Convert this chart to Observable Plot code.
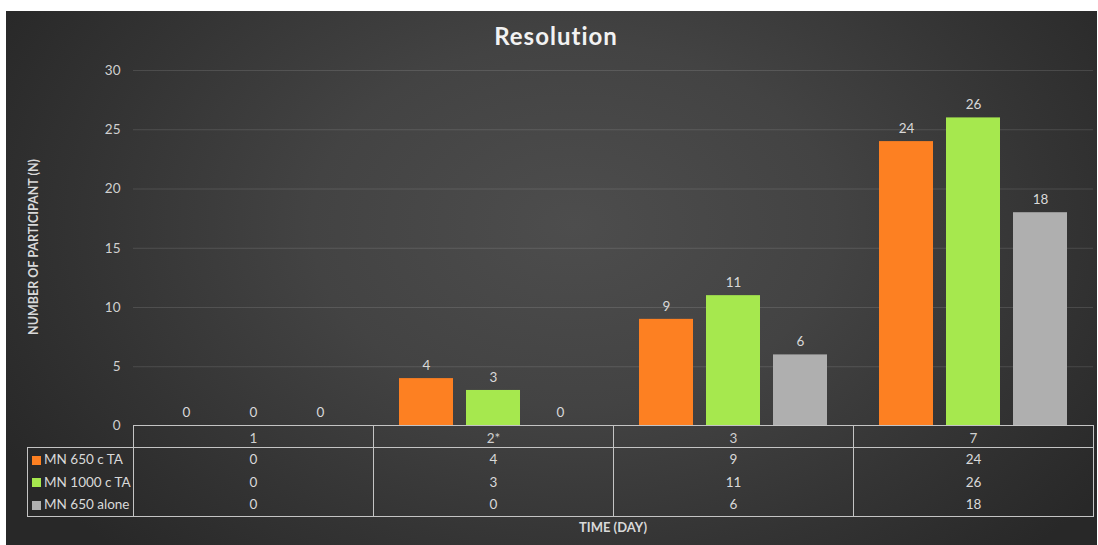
<!DOCTYPE html>
<html>
<head>
<meta charset="utf-8">
<script src="https://cdn.jsdelivr.net/npm/d3@7"></script>
<script src="https://cdn.jsdelivr.net/npm/@observablehq/plot@0.6"></script>
<style>
  html, body { margin: 0; padding: 0; background: #fff; }
  #wrap { position: relative; width: 1098px; height: 545px; overflow: hidden; font-family: Lato, "Open Sans", sans-serif; }
  #bg { position: absolute; left: 6px; top: 11px; width: 1091px; height: 534px;
        background: radial-gradient(ellipse 60% 85% at 52% 40%, #4d4d4d 0%, #434343 40%, #333 75%, #282828 100%); }
  #plot { position: absolute; left: 6px; top: 11px; }
  #title { position: absolute; left: 0; width: 1112px; top: 21px; text-align: center; color: #f2f2f2; font-weight: 700; font-size: 24px; letter-spacing: 1px; }
  #ylab { position: absolute; left: 33px; top: 247px; transform: translate(-50%, -50%) rotate(-90deg); white-space: nowrap; color: #d9d9d9; font-weight: 700; font-size: 12.5px; }
  #xlab { position: absolute; left: 613px; top: 527px; transform: translate(-50%, -50%); color: #d9d9d9; font-weight: 700; font-size: 13px; white-space: nowrap; }
  #tbl { position: absolute; left: 27px; top: 425px; border-collapse: collapse; color: #d9d9d9; font-size: 13.5px; table-layout: fixed; }
  #tbl td { border: 1px solid #c4c4c4; padding: 0; text-align: center; }
  #tbl tr.head td { height: 21px; }
  #tbl tr.row td { height: 22.5px; }
  #tbl tr.row td { border-top: none; border-bottom: none; }
  #tbl tr.row:last-child td { border-bottom: 1px solid #c4c4c4; }
  #tbl td.leg { text-align: left; white-space: nowrap; padding-left: 4px; }
  #tbl td.blank { border: none; border-bottom: 1px solid #c4c4c4; }
  .sw { display: inline-block; width: 9px; height: 9px; margin-right: 3px; vertical-align: -0.5px; }
</style>
</head>
<body>
<div id="wrap">
  <div id="bg"></div>
  <div id="plot"></div>
  <div id="title">Resolution</div>
  <div id="ylab">NUMBER OF PARTICIPANT (N)</div>
  <div id="xlab">TIME (DAY)</div>
</div>
<script>
const days = ["1", "2*", "3", "7"];
const seriesNames = ["MN 650 c TA", "MN 1000 c TA", "MN 650 alone"];
const mn650cTA = [0, 4, 9, 24];
const mn1000cTA = [0, 3, 11, 26];
const mn650alone = [0, 0, 6, 18];
const seriesColors = ["#fd8022", "#a6e84e", "#afafaf"];
const yTicks = [0, 5, 10, 15, 20, 25, 30];

const seriesValues = [mn650cTA, mn1000cTA, mn650alone];
const data = [];
days.forEach((d, i) => seriesNames.forEach((s, j) => data.push({day: d, series: s, value: seriesValues[j][i]})));

const chart = Plot.plot({
  width: 1091,
  height: 437,
  marginLeft: 127,
  marginRight: 4,
  marginTop: 59,
  marginBottom: 22.5,
  style: { background: "transparent", color: "#d0d0d0", fontFamily: "Lato, 'Open Sans', sans-serif", fontSize: "13.5px" },
  fx: { domain: days, padding: 0, label: null, tickSize: 0, tickPadding: 7 },
  x: { domain: seriesNames, paddingInner: 0.194, paddingOuter: 0.388, axis: null },
  y: { domain: [0, 30], ticks: yTicks, tickSize: 0, tickPadding: 13, label: null },
  color: { domain: seriesNames, range: seriesColors },
  marks: [
    Plot.ruleY(yTicks.filter(t => t > 0), { stroke: "#ffffff", strokeOpacity: 0.12 }),
    Plot.barY(data, { fx: "day", x: "series", y: "value", fill: "series" }),
    Plot.text(data, { fx: "day", x: "series", y: "value", text: d => String(d.value), dy: -13, fill: "#d9d9d9", fontSize: 13.5 })
  ]
});
document.getElementById("plot").appendChild(chart);

// Data table below the chart
const tbl = document.createElement("table");
tbl.id = "tbl";
const colgroup = document.createElement("colgroup");
[106, 240, 240, 240, 240].forEach(w => { const c = document.createElement("col"); c.style.width = w + "px"; colgroup.appendChild(c); });
tbl.appendChild(colgroup);
const head = document.createElement("tr");
head.className = "head";
const blank = document.createElement("td"); blank.className = "blank"; head.appendChild(blank);
days.forEach(() => head.appendChild(document.createElement("td")));
tbl.appendChild(head);
seriesNames.forEach((s, j) => {
  const tr = document.createElement("tr");
  tr.className = "row";
  const lg = document.createElement("td");
  lg.className = "leg";
  const sw = document.createElement("span");
  sw.className = "sw";
  sw.style.background = seriesColors[j];
  lg.appendChild(sw);
  lg.appendChild(document.createTextNode(s));
  tr.appendChild(lg);
  seriesValues[j].forEach(v => { const td = document.createElement("td"); td.textContent = v; tr.appendChild(td); });
  tbl.appendChild(tr);
});
document.getElementById("wrap").appendChild(tbl);
</script>
</body>
</html>
